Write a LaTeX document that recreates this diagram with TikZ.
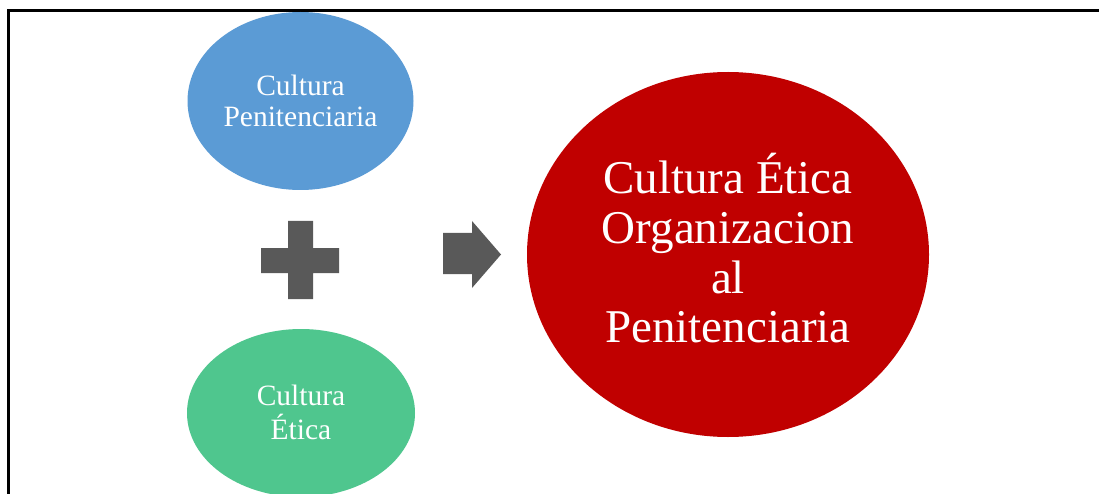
\documentclass[tikz,border=0pt]{standalone}
\usepackage{fontspec}
\setmainfont{Liberation Serif}
\usetikzlibrary{shapes.geometric}
\definecolor{cblue}{HTML}{5B9BD5}
\definecolor{cgreen}{HTML}{4FC68E}
\definecolor{cred}{HTML}{C00000}
\definecolor{cgrey}{HTML}{595959}
\begin{document}
\begin{tikzpicture}[x=1pt,y=-1pt,
  blob/.style={ellipse, inner sep=0pt},
  lbl/.style={text=white, align=center, inner sep=0pt},
  small/.style={font=\fontsize{29.5}{31}\selectfont},
  big/.style={font=\fontsize{47}{49.7}\selectfont},
  sym/.style={fill=cgrey, draw=none}]
\clip (0,0) rectangle (1099,494);
\fill[white] (0,0) rectangle (1099,494);
% frame
\draw[line width=2.8pt] (8.7,494) -- (8.7,10.5) -- (1099,10.5);
% ellipses
\node[blob, fill=cblue, minimum width=226, minimum height=178] (pen) at (300.5,101) {};
\node[lbl, small] (penT) at (pen.center) {Cultura\\Penitenciaria};
\node[blob, fill=cgreen, minimum width=228, minimum height=168] (eti) at (301,413) {};
\node[lbl, font=\fontsize{29.5}{34}\selectfont] (etiT) at ([yshift=1]eti.center) {Cultura\\Ética};
\node[blob, fill=cred, minimum width=402, minimum height=365] (org) at (728,254.5) {};
\node[lbl, big] (orgT) at ([yshift=6]org.center) {Cultura Ética\\Organizacion\\al\\Penitenciaria};
% plus
\fill[sym] (288,221) -- (313,221) -- (313,248) -- (339,248) -- (339,273) -- (313,273) -- (313,299) -- (288,299) -- (288,273) -- (261,273) -- (261,248) -- (288,248) -- cycle;
% arrow
\fill[sym] (443,233) -- (472,233) -- (472,221) -- (501,254.5) -- (472,288) -- (472,274) -- (443,274) -- cycle;
\end{tikzpicture}
\end{document}
